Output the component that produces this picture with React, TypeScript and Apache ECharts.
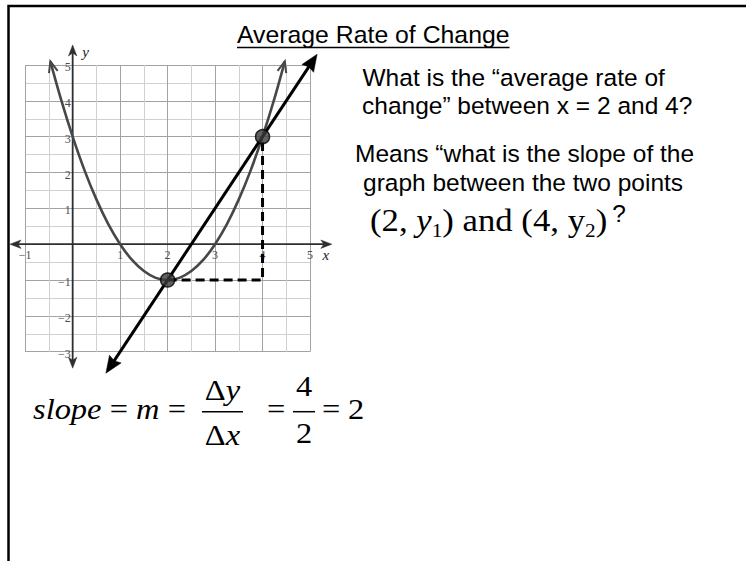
import React, { useEffect, useRef } from 'react';
import * as echarts from 'echarts';

// Plot window of the graph paper
const xMin = -1;
const xMax = 5;
const yMin = -3;
const yMax = 5;
// Axis arrows reach a little past the paper
const xAxisEnds = [-1.32, 5.46];
const yAxisEnds = [-3.46, 5.56];
// Numbered ticks along the axes
const xTickValues = [-1, 1, 2, 3, 4, 5];
const yTickValues = [-3, -2, -1, 1, 2, 3, 4, 5];

// Parabola traced at quarter steps (its ends carry arrow heads)
const curveX = [-0.47, -0.25, 0, 0.25, 0.5, 0.75, 1, 1.25, 1.5, 1.75, 2, 2.25, 2.5, 2.75, 3, 3.25, 3.5, 3.75, 4, 4.25, 4.47];
const curveY = [5.1, 4.06, 3, 2.06, 1.25, 0.56, 0, -0.44, -0.75, -0.94, -1, -0.94, -0.75, -0.44, 0, 0.56, 1.25, 2.06, 3, 4.06, 5.1];

// Secant line through the two marked points
const secantFrom = [0.7, -3.6];
const secantTo = [5.15, 5.3];

// Marked points (2, y1) and (4, y2)
const markedX = [2, 4];
const markedY = [-1, 3];

// Run-then-rise legs (dashed)
const legX = [2, 4, 4];
const legY = [-1, -1, 3];

// Text
const title = 'Average Rate of Change';
const question = ['What is the \u201caverage rate of', 'change\u201d between x = 2 and 4?'];
const meaning = ['Means \u201cwhat is the slope of the', 'graph between the two points'];
const rise = 4;
const runLen = 2;
const slopeValue = 2;

const SANS = '"Liberation Sans", Arial, sans-serif';
const SERIF = '"Liberation Serif", "Times New Roman", serif';

let measureCtx: CanvasRenderingContext2D | null = null;
function textWidth(t: string, size: number, family: string, italic?: boolean) {
  if (!measureCtx) measureCtx = document.createElement('canvas').getContext('2d');
  measureCtx!.font = `${italic ? 'italic ' : ''}${size}px ${family}`;
  return measureCtx!.measureText(t).width;
}

function textEl(t: string, x: number, baseline: number, size: number, family: string,
  italic = false, sx = 1, align = 'left', fill = '#000') {
  return {
    type: 'text', x, y: baseline - 0.34 * size, scaleX: sx, silent: true, z: 20,
    style: {
      text: t, x: 0, y: 0, fontSize: size, fontFamily: family,
      fontStyle: italic ? 'italic' : 'normal', fill, align, verticalAlign: 'middle',
    },
  };
}

type Piece = { t: string; size: number; italic?: boolean; dy?: number };

function runEls(x0: number, baseline: number, pieces: Piece[], sx: number, family: string) {
  const els: any[] = [];
  let x = x0;
  for (const p of pieces) {
    els.push(textEl(p.t, x, baseline + (p.dy || 0), p.size, family, !!p.italic, sx));
    x += textWidth(p.t, p.size, family, p.italic) * sx;
  }
  return { els, end: x };
}

function runWidth(pieces: Piece[], sx: number, family: string) {
  return pieces.reduce((w, p) => w + textWidth(p.t, p.size, family, p.italic) * sx, 0);
}

function centeredRun(cx: number, baseline: number, pieces: Piece[], sx: number, family: string) {
  const w = runWidth(pieces, sx, family);
  return runEls(cx - w / 2, baseline, pieces, sx, family).els;
}

function unit(a: number[], b: number[]) {
  const dx = b[0] - a[0];
  const dy = b[1] - a[1];
  const l = Math.hypot(dx, dy) || 1;
  return [dx / l, dy / l];
}

// filled arrow head with a slight notch, pointing along u
function head(tip: number[], u: number[], len: number, half: number, notch: number, color: string) {
  const n = [-u[1], u[0]];
  return {
    type: 'polygon',
    shape: {
      points: [
        tip,
        [tip[0] - u[0] * len + n[0] * half, tip[1] - u[1] * len + n[1] * half],
        [tip[0] - u[0] * (len - notch), tip[1] - u[1] * (len - notch)],
        [tip[0] - u[0] * len - n[0] * half, tip[1] - u[1] * len - n[1] * half],
      ],
    },
    style: { fill: color, stroke: color, lineWidth: 0.5 },
  };
}

// open chevron head
function chevron(tip: number[], u: number[], len: number, half: number, color: string) {
  const n = [-u[1], u[0]];
  return {
    type: 'polyline',
    shape: {
      points: [
        [tip[0] - u[0] * len + n[0] * half, tip[1] - u[1] * len + n[1] * half],
        tip,
        [tip[0] - u[0] * len - n[0] * half, tip[1] - u[1] * len - n[1] * half],
      ],
    },
    style: { stroke: color, lineWidth: 2, fill: 'none' },
  };
}

const AXIS = '#2e2e2e';
const CURVE = '#474747';
const TICK_TEXT = '#4d4d4d';

const minusFmt = (v: number) => (v === 0 ? '' : v < 0 ? '\u2212' + Math.abs(v) : String(v));

function buildOption() {
  const graphic: any[] = [];
  // slide frame (top and left edges)
  graphic.push({
    type: 'polyline', silent: true, z: 1,
    shape: { points: [[746, 6], [8.5, 6], [8.5, 561]] },
    style: { stroke: '#000', lineWidth: 2.5, fill: 'none' },
  });

  // title with underline
  const titleSize = 24.8;
  const titleX = 237;
  graphic.push(textEl(title, titleX, 42.5, titleSize, SANS));
  graphic.push({
    type: 'line', silent: true, z: 20,
    shape: { x1: titleX, y1: 47.5, x2: titleX + textWidth(title, titleSize, SANS), y2: 47.5 },
    style: { stroke: '#000', lineWidth: 1.6 },
  });

  // question text
  const bodySize = 24.5;
  graphic.push(textEl(question[0], 362.5, 86, bodySize, SANS));
  graphic.push(textEl(question[1], 362, 113.5, bodySize, SANS));
  graphic.push(textEl(meaning[0], 355, 162, bodySize, SANS));
  graphic.push(textEl(meaning[1], 363, 191, bodySize, SANS));

  // (2, y1) and (4, y2) ?
  const pts = runEls(370, 231, [
    { t: '(2, ', size: 31 },
    { t: 'y', size: 31, italic: true },
    { t: '1', size: 19, dy: 6 },
    { t: ') and (4, ', size: 31 },
    { t: 'y', size: 31 },
    { t: '2', size: 19, dy: 6 },
    { t: ')', size: 31 },
  ], 1.12, SERIF);
  graphic.push(...pts.els);
  graphic.push(textEl('?', pts.end + 5, 222, bodySize, SANS));

  // slope = m = Δy/Δx = 4/2 = 2
  const F = 29;
  const SX = 1.12;
  const mainBase = 419;
  const barY = 411.7;
  graphic.push(...runEls(33, mainBase, [
    { t: 'slope', size: F, italic: true },
    { t: ' = ', size: F },
    { t: 'm', size: F, italic: true },
    { t: ' = ', size: F },
  ], SX, SERIF).els);
  graphic.push(...centeredRun(222.5, 400, [{ t: '\u0394', size: F }, { t: 'y', size: F, italic: true }], SX, SERIF));
  graphic.push(...centeredRun(222.5, 445, [{ t: '\u0394', size: F }, { t: 'x', size: F, italic: true }], SX, SERIF));
  graphic.push({ type: 'line', silent: true, z: 20, shape: { x1: 202, y1: barY, x2: 243, y2: barY }, style: { stroke: '#000', lineWidth: 1.5 } });
  graphic.push(textEl('=', 267, mainBase, F, SERIF, false, SX));
  graphic.push(...centeredRun(304, 396, [{ t: String(rise), size: F }], SX, SERIF));
  graphic.push(...centeredRun(304, 443, [{ t: String(runLen), size: F }], SX, SERIF));
  graphic.push({ type: 'line', silent: true, z: 20, shape: { x1: 293, y1: barY, x2: 315, y2: barY }, style: { stroke: '#000', lineWidth: 1.5 } });
  graphic.push(textEl('=', 322, mainBase, F, SERIF, false, SX));
  graphic.push(textEl(String(slopeValue), 348, mainBase, F, SERIF, false, SX));

  const curveData = curveX.map((x, i) => [x, curveY[i]]);

  const axisCommon = {
    type: 'value',
    interval: 1,
    axisLine: { show: false },
    axisTick: { show: false },
    axisLabel: { show: false },
    splitLine: { show: true, lineStyle: { color: '#a3a3a3', width: 1 } },
    minorTick: { show: false, splitNumber: 2 },
    minorSplitLine: { show: true, lineStyle: { color: '#d0d0d0', width: 1 } },
  };

  return {
    animation: false,
    backgroundColor: '#fff',
    grid: { left: 25.2, top: 65, width: 284.8, height: 286.7, containLabel: false, outerBoundsMode: 'none' },
    xAxis: { ...axisCommon, min: xMin, max: xMax },
    yAxis: { ...axisCommon, min: yMin, max: yMax },
    graphic,
    series: [
      {
        // axis lines extended past the paper, with arrow heads, numbers and names
        type: 'custom', coordinateSystem: 'cartesian2d', silent: true, z: 2,
        data: [[0, 0]],
        renderItem: (_p: any, api: any) => {
          const l = api.coord([xAxisEnds[0], 0]);
          const r = api.coord([xAxisEnds[1], 0]);
          const b = api.coord([0, yAxisEnds[0]]);
          const t = api.coord([0, yAxisEnds[1]]);
          const children: any[] = [
            { type: 'line', shape: { x1: l[0] + 5, y1: l[1], x2: r[0] - 5, y2: r[1] }, style: { stroke: AXIS, lineWidth: 1.8 } },
            { type: 'line', shape: { x1: b[0], y1: b[1] - 5, x2: t[0], y2: t[1] + 5 }, style: { stroke: AXIS, lineWidth: 1.8 } },
            head(l, unit(r, l), 11, 4.2, 3, AXIS),
            head(r, unit(l, r), 11, 4.2, 3, AXIS),
            head(b, unit(t, b), 11, 4.2, 3, AXIS),
            head(t, unit(b, t), 11, 4.2, 3, AXIS),
          ];
          for (const v of xTickValues) {
            const p = api.coord([v, 0]);
            children.push({
              type: 'text', x: p[0], y: p[1] + 11,
              style: { text: minusFmt(v), align: 'center', verticalAlign: 'middle', fontFamily: SERIF, fontSize: 12, fill: TICK_TEXT },
            });
          }
          for (const v of yTickValues) {
            const p = api.coord([0, v]);
            children.push({
              type: 'text', x: p[0] - 2, y: p[1] + 2,
              style: { text: minusFmt(v), align: 'right', verticalAlign: 'middle', fontFamily: SERIF, fontSize: 12, fill: TICK_TEXT },
            });
          }
          children.push({
            type: 'text', x: r[0] - 6, y: r[1] + 11,
            style: { text: 'x', align: 'center', verticalAlign: 'middle', fontFamily: SERIF, fontStyle: 'italic', fontSize: 15, fill: '#222' },
          });
          children.push({
            type: 'text', x: t[0] + 13, y: t[1] + 7,
            style: { text: 'y', align: 'center', verticalAlign: 'middle', fontFamily: SERIF, fontStyle: 'italic', fontSize: 15, fill: '#222' },
          });
          return { type: 'group', children };
        },
      },
      {
        type: 'line', data: curveData, smooth: 0.3, showSymbol: false, clip: false, silent: true, z: 3,
        lineStyle: { color: CURVE, width: 2.6 },
      },
      {
        // parabola arrow heads
        type: 'custom', coordinateSystem: 'cartesian2d', silent: true, z: 3,
        data: [[0, 0]],
        renderItem: (_p: any, api: any) => {
          const n = curveData.length;
          const a0 = api.coord(curveData[0]);
          const a1 = api.coord(curveData[1]);
          const b0 = api.coord(curveData[n - 1]);
          const b1 = api.coord(curveData[n - 2]);
          return {
            type: 'group',
            children: [chevron(a0, unit(a1, a0), 11, 4.5, CURVE), chevron(b0, unit(b1, b0), 11, 4.5, CURVE)],
          };
        },
      },
      {
        // secant line with arrow heads at both ends
        type: 'custom', coordinateSystem: 'cartesian2d', silent: true, z: 4,
        data: [[0, 0]],
        renderItem: (_p: any, api: any) => {
          const p0 = api.coord(secantFrom);
          const p1 = api.coord(secantTo);
          const u = unit(p0, p1);
          const L = 17;
          return {
            type: 'group',
            children: [
              { type: 'line', shape: { x1: p0[0] + u[0] * (L - 4), y1: p0[1] + u[1] * (L - 4), x2: p1[0] - u[0] * (L - 4), y2: p1[1] - u[1] * (L - 4) }, style: { stroke: '#000', lineWidth: 3 } },
              head(p1, u, L, 7, 2, '#000'),
              head(p0, [-u[0], -u[1]], L, 7, 2, '#000'),
            ],
          };
        },
      },
      {
        type: 'line', data: legX.map((x, i) => [x, legY[i]]), showSymbol: false, clip: false, silent: true, z: 4,
        lineStyle: { color: '#000', width: 3, type: [9, 5] },
      },
      {
        type: 'scatter', data: markedX.map((x, i) => [x, markedY[i]]), symbolSize: 14, silent: true, z: 6,
        itemStyle: { color: '#3a3a3a', borderColor: '#000', borderWidth: 1.5 },
      },
    ],
  };
}

export default function App() {
  const ref = useRef<HTMLDivElement>(null);
  useEffect(() => {
    const chart = echarts.init(ref.current!, null, { renderer: 'svg' });
    chart.setOption(buildOption() as any);
    return () => chart.dispose();
  }, []);
  return (
    <div
      ref={ref}
      style={{ position: 'fixed', left: 0, top: 0, width: 746, height: 561, background: '#fff' }}
    />
  );
}
